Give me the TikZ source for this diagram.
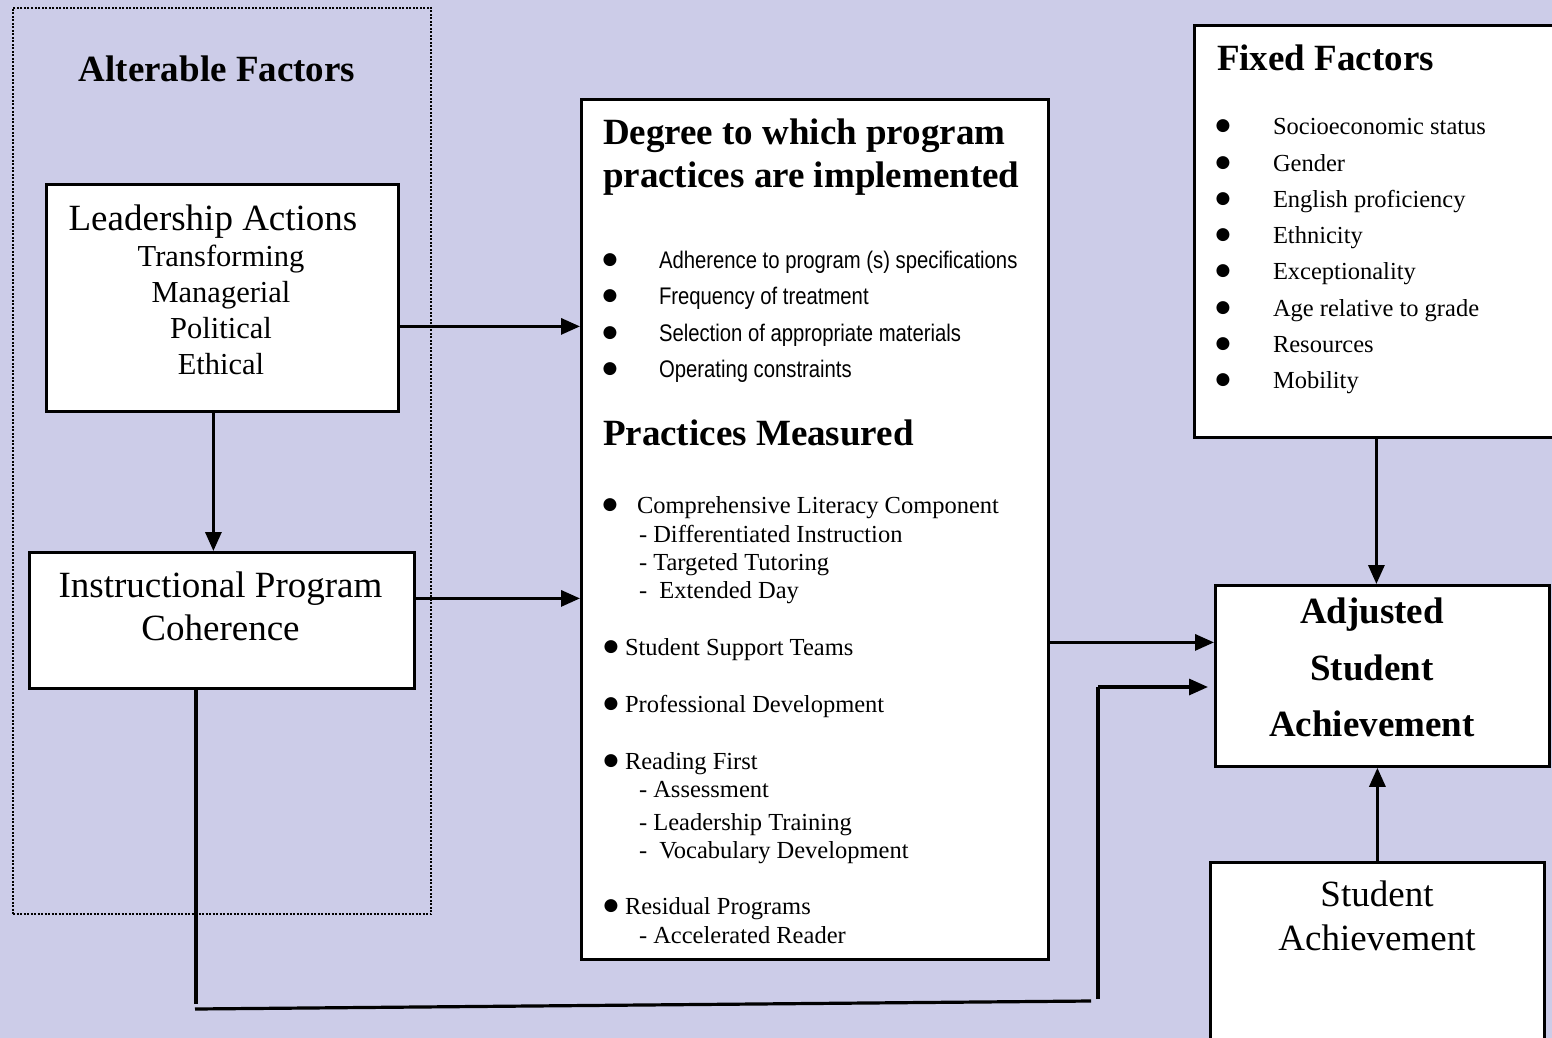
\documentclass[tikz,border=0pt]{standalone}
\usepackage{fontspec}
\setmainfont{Liberation Serif}
\newfontfamily\narrowsans[FakeStretch=0.845]{Liberation Sans}
\newfontfamily\dejavu{DejaVu Sans}
\usetikzlibrary{arrows.meta}
\definecolor{bgblue}{RGB}{204,204,232}
\newcommand\bulglyph{{\dejavu\fontsize{17}{17}\selectfont ●}}
\begin{document}
\begin{tikzpicture}[x=1pt,y=-1pt,
  boxstyle/.style={draw=black, fill=white, line width=2.8pt, rectangle, inner sep=0pt, anchor=north west},
  txt/.style={inner sep=0pt, outer sep=0pt},
  big/.style={font=\fontsize{37}{37}\selectfont},
  bigb/.style={font=\fontsize{37}{37}\selectfont\bfseries},
  midf/.style={font=\fontsize{30.5}{30.5}\selectfont},
  smallf/.style={font=\fontsize{24.5}{24.5}\selectfont},
  sansf/.style={font=\narrowsans\fontsize{24}{24}\selectfont},
  arr/.style={line width=3.2pt, -{Triangle[length=19pt,width=16pt]}},
  plainline/.style={line width=3.2pt},
  bulnode/.style={inner sep=0pt, anchor=base, yshift=4pt}
]
\useasboundingbox (0,0) rectangle (1552,1038);
\fill[bgblue] (0,0) rectangle (1552,1038);
\clip (0,0) rectangle (1552,1038);

% dotted region
\node[draw=black, line width=2pt, dash pattern=on 2pt off 1.5pt, inner sep=0pt,
      minimum width=418pt, minimum height=906pt, anchor=north west] (alt) at (12,7) {};
\node[txt,bigb,anchor=base] (altT) at (217,82) {Alterable Factors};

% boxes
\node[boxstyle, minimum width=352pt, minimum height=227pt] (lead) at (45,183) {};
\node[boxstyle, minimum width=385pt, minimum height=136pt] (ipc) at (28,551) {};
\node[boxstyle, minimum width=467pt, minimum height=860pt] (mid) at (580,98) {};
\node[boxstyle, minimum width=420pt, minimum height=412pt] (fixed) at (1193,24) {};
\node[boxstyle, minimum width=334pt, minimum height=181pt] (adj) at (1214,584) {};
\node[boxstyle, minimum width=334pt, minimum height=220pt] (sa) at (1209,861) {};

% leadership text
\node[txt,big,anchor=base] (leadT) at (213,230) {Leadership Actions};
\node[txt,midf,anchor=base] (l1) at (221,266) {Transforming};
\node[txt,midf,anchor=base] (l2) at (221,302) {Managerial};
\node[txt,midf,anchor=base] (l3) at (221,338) {Political};
\node[txt,midf,anchor=base] (l4) at (221,374) {Ethical};

% IPC text
\node[txt,big,anchor=base] (ipcT1) at (220.5,597) {Instructional Program};
\node[txt,big,anchor=base] (ipcT2) at (220.5,640) {Coherence};

% middle box
\node[txt,bigb,anchor=base west] (degT1) at (603,144) {Degree to which program};
\node[txt,bigb,anchor=base west] (degT2) at (603,187) {practices are implemented};
\node[bulnode] (db1) at (610,268) {\bulglyph};
\node[bulnode] (db2) at (610,304) {\bulglyph};
\node[bulnode] (db3) at (610,341) {\bulglyph};
\node[bulnode] (db4) at (610,377) {\bulglyph};
\node[txt,sansf,anchor=base west] (d1) at (659,268) {Adherence to program (s) specifications};
\node[txt,sansf,anchor=base west] (d2) at (659,304) {Frequency of treatment};
\node[txt,sansf,anchor=base west] (d3) at (659,341) {Selection of appropriate materials};
\node[txt,sansf,anchor=base west] (d4) at (659,377) {Operating constraints};

\node[txt,bigb,anchor=base west] (pmT) at (603,445) {Practices Measured};
\node[bulnode] (pb1) at (610,513) {\bulglyph};
\node[txt,smallf,anchor=base west] (p1) at (637,513) {Comprehensive Literacy Component};
\node[txt,smallf,anchor=base west] (p1a) at (639,542) {- Differentiated Instruction};
\node[txt,smallf,anchor=base west] (p1b) at (639,570) {- Targeted Tutoring};
\node[txt,smallf,anchor=base west] (p1c) at (639,598) {-\ \ Extended Day};
\node[bulnode] (pb2) at (611,655) {\bulglyph};
\node[txt,smallf,anchor=base west] (p2) at (625,655) {Student Support Teams};
\node[bulnode] (pb3) at (611,712) {\bulglyph};
\node[txt,smallf,anchor=base west] (p3) at (625,712) {Professional Development};
\node[bulnode] (pb4) at (611,769) {\bulglyph};
\node[txt,smallf,anchor=base west] (p4) at (625,769) {Reading First};
\node[txt,smallf,anchor=base west] (p4a) at (639,797) {- Assessment};
\node[txt,smallf,anchor=base west] (p4b) at (639,830) {- Leadership Training};
\node[txt,smallf,anchor=base west] (p4c) at (639,858) {-\ \ Vocabulary Development};
\node[bulnode] (pb5) at (611,914) {\bulglyph};
\node[txt,smallf,anchor=base west] (p5) at (625,914) {Residual Programs};
\node[txt,smallf,anchor=base west] (p5a) at (639,943) {- Accelerated Reader};

% fixed factors
\node[txt,bigb,anchor=base west] (fixT) at (1217,71) {Fixed Factors};
\foreach \yy/\tt [count=\i] in {135/Socioeconomic status,171/Gender,207/English proficiency,243/Ethnicity,279/Exceptionality,316/Age relative to grade,352/Resources,388/Mobility}{
  \node[bulnode] (fb\i) at (1223,\yy) {\bulglyph};
  \node[txt,smallf,anchor=base west] (f\i) at (1273,\yy) {\tt};
}

% adjusted
\node[txt,bigb,anchor=base] (adj1) at (1372,623) {Adjusted};
\node[txt,bigb,anchor=base] (adj2) at (1372,680) {Student};
\node[txt,bigb,anchor=base] (adj3) at (1372,736) {Achievement};

% student achievement
\node[txt,big,anchor=base] (sa1) at (1377,906) {Student};
\node[txt,big,anchor=base] (sa2) at (1377,950) {Achievement};

% connectors
\draw[arr] ([xshift=-9pt]lead.south) -- ([xshift=-9pt]lead.south |- ipc.north);
\draw[arr] ([yshift=-28.5pt]lead.east) -- ([yshift=-28.5pt]lead.east -| mid.west);
\draw[arr] ([yshift=22pt]ipc.east) -- ([yshift=22pt]ipc.east -| mid.west);
\draw[arr] ([yshift=-113pt]mid.east) -- ([yshift=-113pt]mid.east -| adj.west);
\draw[arr] ([xshift=-6pt]adj.north |- fixed.south) -- ([xshift=-6pt]adj.north);
\draw[arr] (sa.north) -- (sa.north |- adj.south);

\coordinate (c1) at (196,1004);
\coordinate (c2) at (195,1009);
\coordinate (c3) at (1091,1001);
\coordinate (c4) at (1098,999);
\coordinate (c5) at (1098,687);
\draw[plainline] (ipc.south -| c1) -- (c1);
\draw[plainline] (c2) -- (c3);
\draw[plainline] (c4) -- (c5);
\draw[arr] (c5) -- ([xshift=-6pt]adj.west |- c5);
\end{tikzpicture}
\end{document}
